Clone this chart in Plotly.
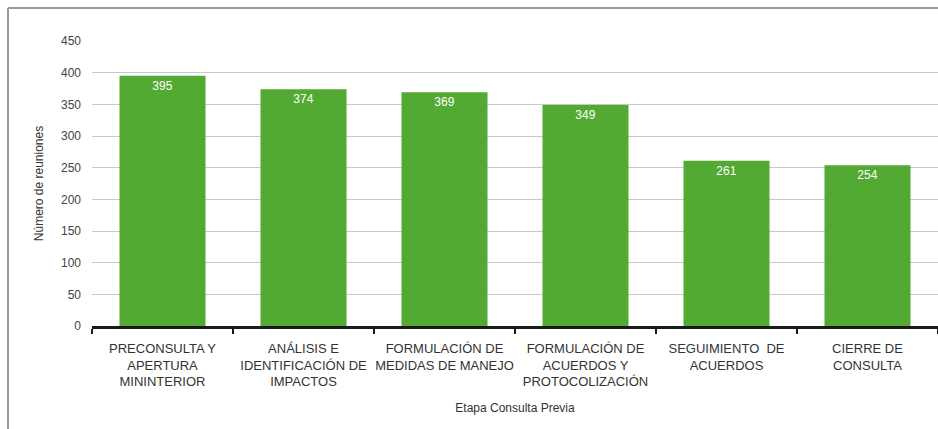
import plotly.graph_objects as go

categories = [
    "PRECONSULTA Y<br>APERTURA<br>MININTERIOR",
    "ANÁLISIS E<br>IDENTIFICACIÓN DE<br>IMPACTOS",
    "FORMULACIÓN DE<br>MEDIDAS DE MANEJO",
    "FORMULACIÓN DE<br>ACUERDOS Y<br>PROTOCOLIZACIÓN",
    "SEGUIMIENTO  DE<br>ACUERDOS",
    "CIERRE DE<br>CONSULTA",
]
values = [395, 374, 369, 349, 261, 254]
y_ticks = [0, 50, 100, 150, 200, 250, 300, 350, 400, 450]

FONT = "Liberation Sans Narrow, Arial Narrow, Liberation Sans, Arial, sans-serif"

fig = go.Figure()
fig.add_trace(go.Bar(
    x=categories,
    y=values,
    text=[str(v) for v in values],
    textposition="inside",
    insidetextanchor="end",
    textfont=dict(color="white", size=12, family=FONT),
    marker=dict(color="#52aa33", line=dict(width=0)),
    cliponaxis=False,
))

W, H = 938, 429
ml, mr, mt, mb = 92, 0, 41, 103

fig.update_layout(
    width=W, height=H,
    margin=dict(l=ml, r=mr, t=mt, b=mb, autoexpand=False),
    paper_bgcolor="white",
    plot_bgcolor="white",
    bargap=0.39,
    showlegend=False,
    font=dict(family=FONT, color="#333333", size=12),
    xaxis=dict(
        showgrid=False,
        showline=True, linecolor="#1a1a1a", linewidth=3,
        ticks="outside", tickson="boundaries", ticklen=5, tickwidth=2, tickcolor="#1a1a1a",
        ticklabelstandoff=8,
        tickfont=dict(size=13, color="#333333", family=FONT),
        tickangle=0,
        automargin=False,
        title=dict(text="Etapa Consulta Previa", font=dict(size=12, color="#333333", family=FONT), standoff=16),
        fixedrange=True,
    ),
    yaxis=dict(
        range=[0, 450],
        tickvals=y_ticks,
        showgrid=True, gridcolor="#c8c8c8", gridwidth=1,
        zeroline=False,
        showline=False,
        ticks="", ticklabelstandoff=10,
        automargin=False,
        tickfont=dict(size=12, color="#444444", family=FONT),
        title=dict(text="Número de reuniones", font=dict(size=12, color="#333333", family=FONT), standoff=14),
    ),
)

# frame lines (left and top border of the screenshot)
pw = W - ml - mr
ph = H - mt - mb
x_border = (8 - ml) / pw
y_border = (H - 8 - mb) / ph
y_bottom = (0 - mb) / ph
fig.add_shape(type="line", xref="paper", yref="paper",
              x0=x_border, x1=x_border, y0=y_bottom, y1=y_border,
              line=dict(color="#9a9a9a", width=2))
fig.add_shape(type="line", xref="paper", yref="paper",
              x0=x_border, x1=1.0, y0=y_border, y1=y_border,
              line=dict(color="#9a9a9a", width=2))

fig.write_html("out.html", config={"displayModeBar": False},
               post_script="document.body.style.margin='0px';document.body.style.overflow='hidden';")
